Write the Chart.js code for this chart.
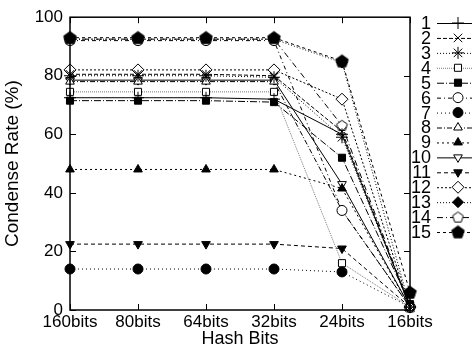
<!DOCTYPE html>
<html><head><meta charset="utf-8">
<script src="https://cdn.jsdelivr.net/npm/chart.js@4/dist/chart.umd.min.js"></script>
<style>html,body{margin:0;padding:0;background:#fff}canvas{display:block}</style>
</head><body>
<canvas id="c" width="472" height="350"></canvas>
<script>
const categories = ["160bits","80bits","64bits","32bits","24bits","16bits"];
const seriesNames = ["1","2","3","4","5","6","7","8","9","10","11","12","13","14","15"];
const s1  = [72.5,72.5,72.5,72.0,60.0,1.0];
const s2  = [80.5,80.5,80.5,80.0,61.0,1.0];
const s3  = [80.0,80.0,80.0,79.5,59.0,1.0];
const s4  = [74.5,74.5,74.5,74.5,16.0,1.0];
const s5  = [71.5,71.5,71.5,71.0,52.0,2.0];
const s6  = [92.0,92.0,92.0,92.0,34.0,1.0];
const s7  = [14.0,14.0,14.0,14.0,13.0,1.0];
const s8  = [78.0,78.0,78.0,78.0,34.0,1.0];
const s9  = [48.0,48.0,48.0,48.0,41.5,1.0];
const s10 = [78.5,78.5,78.5,78.5,43.0,1.0];
const s11 = [22.5,22.5,22.5,22.5,21.0,1.0];
const s12 = [82.0,82.0,82.0,82.0,72.0,1.0];
const s13 = [92.5,92.5,92.5,92.5,84.5,1.0];
const s14 = [92.5,92.5,92.5,92.5,63.0,1.0];
const s15 = [93.0,93.0,93.0,93.0,85.0,6.0];
const yTicks = [0,20,40,60,80,100];

function pentagon(filled, R){
  const S=Math.ceil(R*2+3); const c=document.createElement('canvas'); c.width=S; c.height=S;
  const g=c.getContext('2d'); g.beginPath();
  for(let i=0;i<5;i++){const a=-Math.PI/2+i*2*Math.PI/5; const x=S/2+R*Math.cos(a), y=S/2+0.4+R*Math.sin(a); i?g.lineTo(x,y):g.moveTo(x,y);}
  g.closePath(); g.fillStyle=filled?'#000':'#fff'; g.fill(); g.lineWidth=1; g.strokeStyle='#000'; g.stroke(); return c;
}
const styles = [
 {ps:'cross', fill:'#fff', dash:[], r:6},
 {ps:'crossRot', fill:'#fff', dash:[4,2], r:6},
 {ps:'star', fill:'#fff', dash:[1,2], r:6},
 {ps:'rect', fill:'#fff', dash:[1,1], r:5, color:'#777'},
 {ps:'rect', fill:'#000', dash:[7,2,1,2], r:5},
 {ps:'circle', fill:'#fff', dash:[4,3,1,3], r:5},
 {ps:'circle', fill:'#000', dash:[1,3], r:5},
 {ps:'triangle', fill:'#fff', dash:[5,2,1,2], r:5},
 {ps:'triangle', fill:'#000', dash:[2,3], r:5},
 {ps:'triangle', fill:'#fff', dash:[], r:5, rot:180},
 {ps:'triangle', fill:'#000', dash:[4,3], r:5, rot:180},
 {ps:'rectRot', fill:'#fff', dash:[2,2], r:6},
 {ps:'rectRot', fill:'#000', dash:[1,2], r:5.5},
 {ps:pentagon(false,5.6), fill:'#fff', dash:[6,3,1,3], r:6},
 {ps:pentagon(true,6.6), fill:'#000', dash:[3,3], r:6, order:-1}
];
const values=[s1,s2,s3,s4,s5,s6,s7,s8,s9,s10,s11,s12,s13,s14,s15];
const datasets = values.map((v,i)=>{const s=styles[i]; return {
  label: seriesNames[i], data: v, borderColor: s.color||'#000', borderWidth:1, borderDash:s.dash,
  pointStyle:s.ps, pointRadius:s.r, pointRotation:s.rot||0, pointBackgroundColor:s.fill,
  pointBorderColor:'#000', pointBorderWidth:1, tension:0, clip:false, fill:false, order:s.order||0};});

const FONT='"Liberation Sans", Arial, sans-serif';
const frame = {
  id:'frame',
  afterDatasetsDraw(chart){
    const {ctx, chartArea:a, scales:{x,y}} = chart;
    ctx.save(); ctx.strokeStyle='#000'; ctx.lineWidth=1.5; ctx.setLineDash([]);
    ctx.strokeRect(a.left, a.top, a.right-a.left, a.bottom-a.top);
    ctx.lineWidth=1;
    yTicks.forEach(t=>{const p=Math.round(y.getPixelForValue(t))+0.5;
      ctx.beginPath(); ctx.moveTo(a.left,p); ctx.lineTo(a.left+6,p); ctx.moveTo(a.right,p); ctx.lineTo(a.right-6,p); ctx.stroke();});
    categories.forEach((c,i)=>{const p=Math.round(x.getPixelForValue(i))+0.5;
      ctx.beginPath(); ctx.moveTo(p,a.bottom); ctx.lineTo(p,a.bottom-6); ctx.moveTo(p,a.top); ctx.lineTo(p,a.top+6); ctx.stroke();});
    // legend
    const y0=23, dy=14.93;
    chart.data.datasets.forEach((d,i)=>{
      const yy=y0+i*dy;
      ctx.fillStyle='#000'; ctx.font='18px '+FONT;
      ctx.textAlign='right'; ctx.textBaseline='middle'; ctx.fillText(d.label, 431, yy+1);
      ctx.strokeStyle=d.borderColor; ctx.lineWidth=1; ctx.setLineDash(d.borderDash);
      ctx.beginPath(); ctx.moveTo(437,yy+0.5); ctx.lineTo(472,yy+0.5); ctx.stroke(); ctx.setLineDash([]);
      ctx.fillStyle=d.pointBackgroundColor; ctx.strokeStyle='#000';
      Chart.helpers.drawPoint(ctx,{pointStyle:d.pointStyle, rotation:d.pointRotation, radius:d.pointRadius, borderWidth:1}, 458, yy);
    });
    ctx.restore();
  }
};

new Chart(document.getElementById('c'), {
  type:'line',
  data:{labels:categories, datasets},
  plugins:[frame],
  options:{
    responsive:false, animation:false, devicePixelRatio:1,
    layout:{padding:{top:14,right:62,left:0,bottom:0}},
    plugins:{legend:{display:false}, tooltip:{enabled:false}},
    scales:{
      x:{offset:false, grid:{display:false, drawTicks:false}, border:{display:false},
         ticks:{color:'#000', font:{size:17, family:FONT}, padding:2, maxRotation:0, autoSkip:false},
         title:{display:true, text:'Hash Bits', color:'#000', font:{size:18, family:FONT}, padding:{top:0,bottom:0}},
         afterFit(s){s.height=40;}},
      y:{min:0, max:100, afterBuildTicks(s){s.ticks=yTicks.map(v=>({value:v}));},
         grid:{display:false, drawTicks:false}, border:{display:false},
         ticks:{color:'#000', font:{size:17, family:FONT}, padding:7},
         title:{display:true, text:'Condense Rate (%)', color:'#000', font:{size:19, family:FONT}, padding:{top:1,bottom:0}},
         afterFit(s){s.width=70;}}
    }
  }
});
</script>
</body></html>
